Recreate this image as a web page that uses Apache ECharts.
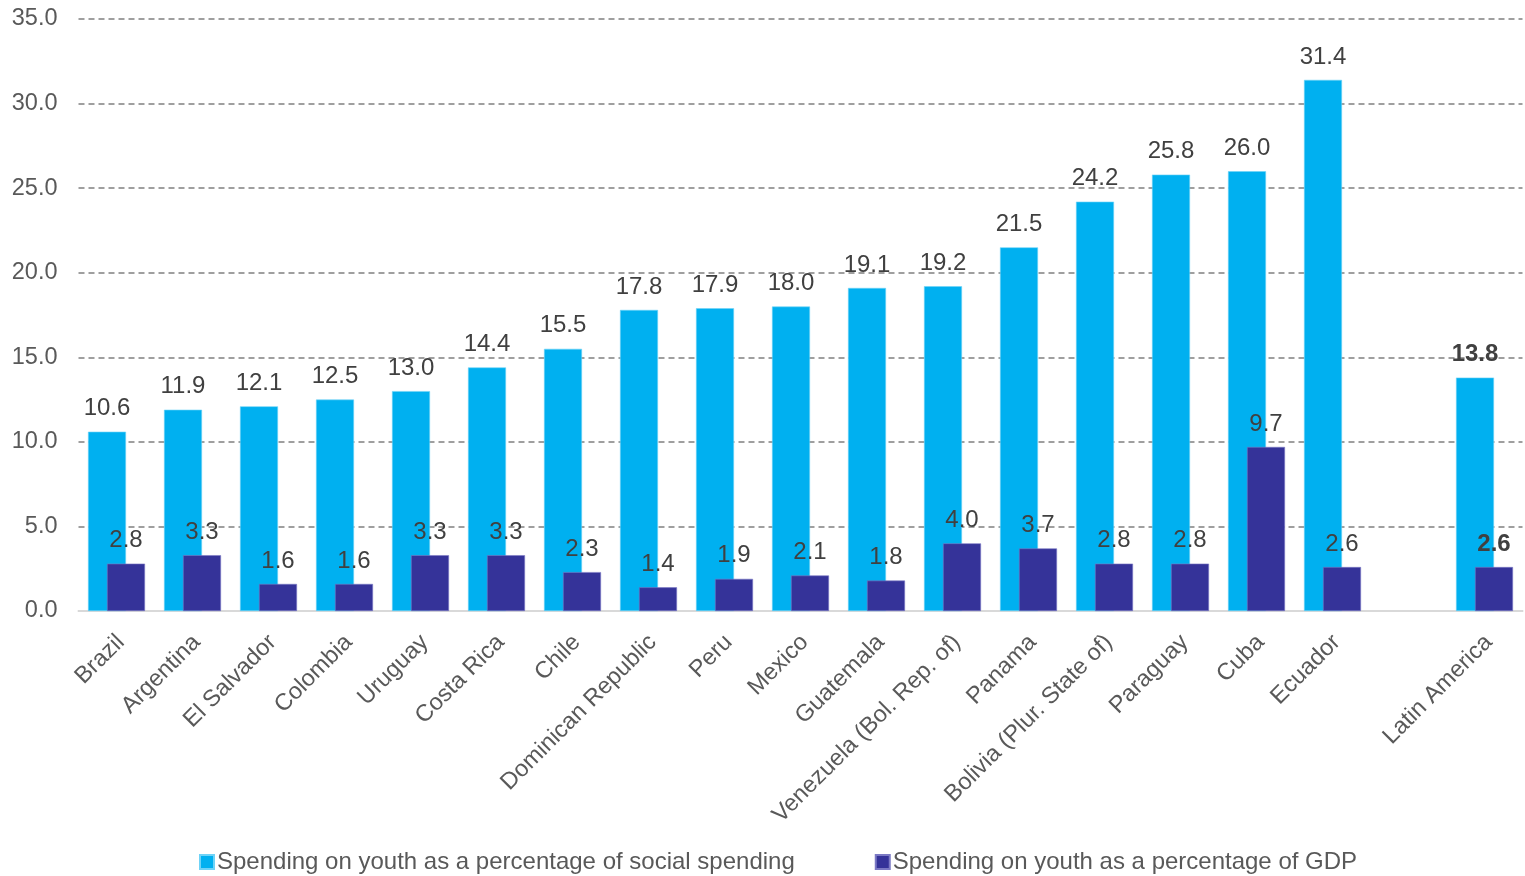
<!DOCTYPE html>
<html>
<head>
<meta charset="utf-8">
<script src="https://cdn.jsdelivr.net/npm/echarts@6/dist/echarts.min.js"></script>
<style>
  html, body { margin: 0; padding: 0; background: #ffffff; }
  #chart { width: 1525px; height: 876px; }
</style>
</head>
<body>
<div id="chart"></div>
<script>
// Countries (an empty slot separates the regional average)
const categories = [
  'Brazil', 'Argentina', 'El Salvador', 'Colombia', 'Uruguay', 'Costa Rica',
  'Chile', 'Dominican Republic', 'Peru', 'Mexico', 'Guatemala',
  'Venezuela (Bol. Rep. of)', 'Panama', 'Bolivia (Plur. State of)',
  'Paraguay', 'Cuba', 'Ecuador', '', 'Latin America'
];

// Spending on youth as a percentage of social spending
const socialShare = [10.6, 11.9, 12.1, 12.5, 13.0, 14.4, 15.5, 17.8, 17.9, 18.0,
  19.1, 19.2, 21.5, 24.2, 25.8, 26.0, 31.4, null, 13.8];

// Spending on youth as a percentage of GDP
const gdpShare = [2.8, 3.3, 1.6, 1.6, 3.3, 3.3, 2.3, 1.4, 1.9, 2.1,
  1.8, 4.0, 3.7, 2.8, 2.8, 9.7, 2.6, null, 2.6];

const seriesNames = [
  'Spending on youth as a percentage of social spending',
  'Spending on youth as a percentage of GDP'
];

const FONT = '"Liberation Sans", Arial, sans-serif';
const LIGHT = '#00b0f0';
const DARK = '#353399';
const AVG_INDEX = categories.indexOf('Latin America');

function withAverageBold(values) {
  return values.map((v, i) => {
    if (v === null) return '-';
    if (i === AVG_INDEX) {
      return { value: v, label: { fontWeight: 'bold' } };
    }
    return v;
  });
}

const chart = echarts.init(document.getElementById('chart'), null, { renderer: 'canvas' });

chart.setOption({
  animation: false,
  backgroundColor: '#ffffff',
  textStyle: { fontFamily: FONT },
  grid: { left: 78.5, right: 2.5, top: 19, bottom: 265, containLabel: false },
  legend: {
    top: 845,
    left: 194,
    itemWidth: 14,
    itemHeight: 14,
    itemGap: 80,
    icon: 'rect',
    textStyle: { fontFamily: FONT, fontSize: 24, color: '#595959', padding: [0, 0, 0, -2] },
    data: seriesNames
  },
  xAxis: {
    type: 'category',
    data: categories,
    axisLine: { show: true, lineStyle: { color: '#d9d9d9', width: 2 } },
    axisTick: { show: false },
    axisLabel: {
      interval: 0,
      rotate: 45,
      margin: 15,
      verticalAlign: 'top',
      padding: [0, 6, 0, 0],
      fontFamily: FONT,
      fontSize: 23.5,
      color: '#595959'
    }
  },
  yAxis: {
    type: 'value',
    min: 0,
    max: 35,
    interval: 5,
    axisLine: { show: false },
    axisTick: { show: false },
    axisLabel: {
      margin: 21,
      fontFamily: FONT,
      fontSize: 23.5,
      color: '#595959',
      formatter: v => v.toFixed(1)
    },
    splitLine: {
      lineStyle: { color: '#808080', width: 1.5, type: [6, 4] }
    }
  },
  series: [
    {
      name: seriesNames[0],
      type: 'bar',
      data: withAverageBold(socialShare),
      barWidth: 38,
      barGap: '-50%',
      itemStyle: { color: LIGHT, borderColor: '#6fd3f7', borderWidth: 0.6 },
      label: {
        show: true,
        position: 'top',
        distance: 11,
        fontFamily: FONT,
        fontSize: 24,
        color: '#404040',
        formatter: p => Number(p.value).toFixed(1)
      },
      z: 2
    },
    {
      name: seriesNames[1],
      type: 'bar',
      data: withAverageBold(gdpShare),
      barWidth: 38,
      itemStyle: { color: DARK, borderColor: '#7b79c4', borderWidth: 0.6 },
      label: {
        show: true,
        position: 'top',
        distance: 11,
        fontFamily: FONT,
        fontSize: 24,
        color: '#404040',
        formatter: p => Number(p.value).toFixed(1)
      },
      z: 3
    }
  ]
});
</script>
</body>
</html>
